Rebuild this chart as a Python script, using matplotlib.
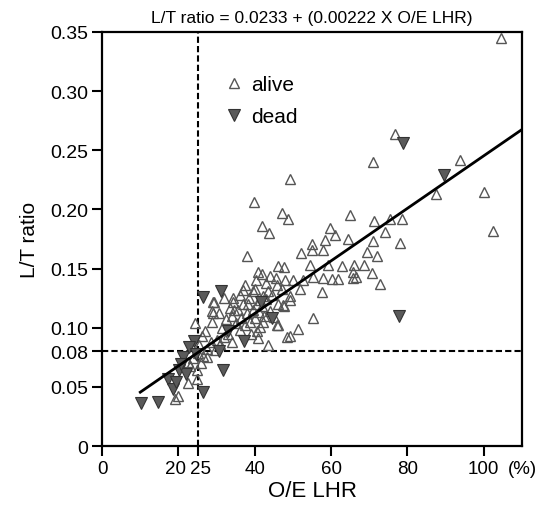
import numpy as np
import matplotlib.pyplot as plt
import matplotlib.transforms as mtransforms

plt.rcParams['font.family'] = ['Liberation Sans', 'DejaVu Sans']

# alive patients (O/E LHR %, L/T ratio)
alive_x = [104.4, 76.7, 70.9, 49.2, 93.7, 87.4, 100.0, 102.4, 47.1, 48.7,
           64.9, 59.7, 61.0, 64.4, 71.2, 75.4, 78.5, 74.1, 78.0, 70.9,
           58.4, 55.0, 55.0, 57.9, 52.1, 69.4, 72.0, 39.8, 41.9, 43.7,
           38.0, 40.8, 46.1, 47.6, 44.0, 37.4, 40.3, 34.3, 29.3, 28.8,
           34.6, 42.1, 47.4, 24.3, 40.1, 45.8, 42.1,
           54.5, 59.2, 62.8, 66.0, 68.6, 65.7, 66.5, 70.7, 72.8,
           55.2, 57.9, 60.2, 61.8, 65.7, 52.6, 50.0, 47.9, 51.8, 57.6,
           47.1, 49.2, 49.2, 47.6, 55.2, 51.3, 49.2, 45.8,
           29.1, 34.3, 38.2, 41.4, 39.5, 43.5, 46.1, 29.1, 34.0, 38.7,
           41.4, 46.1, 40.6, 34.0, 40.8, 43.5, 48.4,
           31.5, 32.5, 33.0, 35.0, 35.5, 36.0, 36.5, 37.0, 37.5, 38.0,
           38.5, 39.0, 39.5, 40.0, 40.5, 41.0, 42.0, 42.5, 43.0, 44.0,
           44.5, 45.0, 36.0, 33.5, 30.5, 32.0, 37.0, 43.0, 45.5, 42.0,
           22.5, 24.9, 24.9, 19.9, 23.0, 26.4, 23.8, 19.1, 22.5, 28.8,
           27.0, 26.2, 25.5, 27.5, 28.5, 30.0, 26.0, 27.5, 25.0, 29.5,
           31.0, 32.0]
alive_y = [0.345, 0.264, 0.240, 0.226, 0.242, 0.213, 0.215, 0.182, 0.197, 0.192,
           0.195, 0.184, 0.178, 0.175, 0.190, 0.192, 0.192, 0.181, 0.172, 0.173,
           0.174, 0.171, 0.166, 0.166, 0.163, 0.164, 0.161, 0.206, 0.186, 0.180,
           0.161, 0.147, 0.152, 0.151, 0.144, 0.136, 0.140, 0.125, 0.122, 0.114,
           0.115, 0.105, 0.119, 0.104, 0.133, 0.136, 0.127,
           0.153, 0.153, 0.152, 0.153, 0.153, 0.147, 0.143, 0.146, 0.137,
           0.143, 0.142, 0.141, 0.141, 0.142, 0.140, 0.140, 0.140, 0.133, 0.130,
           0.133, 0.127, 0.123, 0.118, 0.108, 0.099, 0.093, 0.102,
           0.122, 0.122, 0.120, 0.123, 0.131, 0.131, 0.120, 0.112, 0.110, 0.105,
           0.101, 0.102, 0.097, 0.088, 0.091, 0.085, 0.092,
           0.100, 0.107, 0.095, 0.104, 0.115, 0.098, 0.108, 0.120, 0.102, 0.112,
           0.125, 0.095, 0.115, 0.108, 0.120, 0.113, 0.118, 0.110, 0.124, 0.114,
           0.128, 0.109, 0.128, 0.117, 0.112, 0.125, 0.132, 0.138, 0.142, 0.145,
           0.053, 0.064, 0.057, 0.042, 0.068, 0.076, 0.074, 0.040, 0.071, 0.105,
           0.097, 0.093, 0.085, 0.082, 0.088, 0.090, 0.070, 0.075, 0.079, 0.081,
           0.086, 0.092]

# dead patients
dead_x = [10.2, 14.6, 17.2, 18.5, 19.3, 20.1, 21.9, 21.1, 24.0, 26.4,
          30.5, 31.6, 32.9, 37.1, 41.5, 44.6, 26.4, 31.1, 78.9, 89.6,
          77.8, 22.7, 24.5, 20.6]
dead_y = [0.036, 0.037, 0.057, 0.048, 0.054, 0.064, 0.061, 0.075, 0.089, 0.046,
          0.080, 0.064, 0.097, 0.089, 0.122, 0.108, 0.126, 0.131, 0.256, 0.229,
          0.110, 0.084, 0.078, 0.069]

# regression: L/T = 0.0233 + 0.00222 * O/E LHR
intercept = 0.0233
slope = 0.00222
fit_x = np.array([10, 110])

x_ticks = [0, 20, 25, 40, 60, 80, 100]
y_ticks = [0, 0.05, 0.08, 0.10, 0.15, 0.20, 0.25, 0.30, 0.35]
y_labels = ['0', '0.05', '0.08', '0.10', '0.15', '0.20', '0.25', '0.30', '0.35']

fig = plt.figure(figsize=(5.46, 5.10), dpi=100)
ax = fig.add_axes([0.187, 0.1235, 0.769, 0.812])

ax.axvline(25, color='black', ls=(0, (3, 1.5)), lw=1.5, zorder=1)
ax.axhline(0.08, color='black', ls=(0, (3, 1.5)), lw=1.5, zorder=1)

ax.plot(alive_x, alive_y, ls='none', marker='^', ms=7.5, mfc='none',
        mec='#555555', mew=1.0, label='alive', zorder=2)
ax.plot(dead_x, dead_y, ls='none', marker='v', ms=8.5, mfc='#5a5a5a',
        mec='#333333', mew=0.8, label='dead', zorder=3)
ax.plot(fit_x, intercept + slope * fit_x, color='black', lw=2, zorder=4)

ax.set_xlim(0, 110)
ax.set_ylim(0, 0.35)
ax.set_xticks(x_ticks)
ax.set_xticklabels([str(t) for t in x_ticks])
ax.set_yticks(y_ticks)
ax.set_yticklabels(y_labels)
ax.tick_params(direction='out', length=7, width=1.5, labelsize=14, pad=3)
ax.tick_params(axis='x', labelsize=13.5)
for s in ax.spines.values():
    s.set_linewidth(1.6)

# nudge the crowded "20" and "25" labels apart a little
xlabels = ax.get_xticklabels()
xlabels[1].set_transform(xlabels[1].get_transform() +
                         mtransforms.ScaledTranslation(-2 / 72, 0, fig.dpi_scale_trans))
xlabels[2].set_transform(xlabels[2].get_transform() +
                         mtransforms.ScaledTranslation(2 / 72, 0, fig.dpi_scale_trans))

ax.text(1.0, -0.034, '(%)', transform=ax.transAxes, ha='center', va='top',
        fontsize=13.5)
ax.set_xlabel('O/E LHR', fontsize=16, labelpad=2)
ax.set_ylabel('L/T ratio', fontsize=15, labelpad=8)
ax.set_title('L/T ratio = 0.0233 + (0.00222 X O/E LHR)', fontsize=12.5, pad=7)

ax.legend(loc='upper left', bbox_to_anchor=(0.24, 0.94), frameon=False,
          fontsize=15, handletextpad=0.2, labelspacing=0.6, handlelength=1.2)

fig.savefig('out.png', dpi=100)
